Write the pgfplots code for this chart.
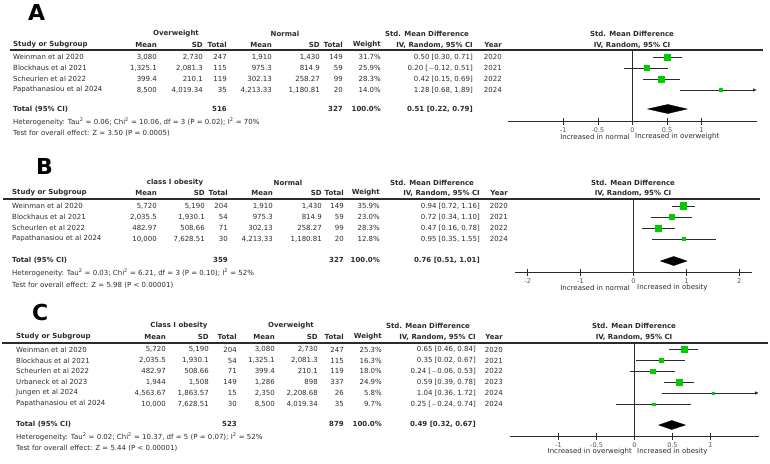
\documentclass[border=0pt]{standalone}
\usepackage{pgfplots}
\pgfplotsset{compat=1.18}
\usepackage{fontspec}
\setmainfont{DejaVu Sans}
\usetikzlibrary{arrows.meta}
\definecolor{sqgreen}{HTML}{00CC00}
\definecolor{ink}{HTML}{2B2B2B}

% column positions are set per panel
\newcommand\trow[9]{%
  \node[L] at (\pS,#1) {#2};
  \node[R] at (\pa,#1) {#3};
  \node[R] at (\pb,#1) {#4};
  \node[R] at (\pc,#1) {#5};
  \node[R] at (\pd,#1) {#6};
  \node[R] at (\pe,#1) {#7};
  \node[R] at (\pf,#1) {#8};
  \node[R] at (\pw,#1) {#9};}
\newcommand\erow[3]{%
  \node[R] at (\px,#1) {#2};
  \node[R] at (\py,#1) {#3};}
\newcommand\fsz{\fontsize{7}{8}\selectfont}

\pgfplotsset{forest/.style={
  scale only axis, clip=false,
  axis x line=bottom, axis y line=none,
  x axis line style={-, ink, line width=0.8pt},
  tick align=center, major tick length=7pt,
  xtick style={ink, line width=0.6pt},
  xticklabel style={font=\fontsize{6.5}{7}\selectfont, text=ink!80},
}}

\begin{document}
\begin{tikzpicture}
\begin{scope}[x=1pt,y=-1pt,
  L/.style={anchor=west,inner sep=0pt,text=ink,font=\fsz},
  R/.style={anchor=east,inner sep=0pt,text=ink,font=\fsz},
  C/.style={anchor=center,inner sep=0pt,text=ink,font=\fsz},
  B/.style={font=\fsz\bfseries}]
\path[use as bounding box] (0,0) rectangle (770,463);

%%%%%%%%%%%%%%%% A
\def\pS{13}\def\pa{157}\def\pb{203}\def\pc{227}\def\pd{272}\def\pe{320}
\def\pf{343}\def\pw{381}\def\px{473}\def\py{502}
\node[anchor=west,inner sep=0pt,font=\fontsize{22}{22}\selectfont\bfseries] at (28,12) {A};
\node[C,B] at (176,34) {Overweight};
\node[C,B] at (285,34) {Normal};
\node[C,B] at (427,34) {Std. Mean Difference};
\node[C,B] at (632,34) {Std. Mean Difference};
\node[C,B] at (632,45) {IV, Random, 95\% CI};
\node[L,B] at (\pS,45) {Study or Subgroup};
\node[R,B] at (\pa,45) {Mean}; \node[R,B] at (\pb,45) {SD}; \node[R,B] at (\pc,45) {Total};
\node[R,B] at (\pd,45) {Mean}; \node[R,B] at (\pe,45) {SD}; \node[R,B] at (\pf,45) {Total};
\node[R,B] at (\pw,45) {Weight}; \node[R,B] at (\px,45) {IV, Random, 95\% CI}; \node[R,B] at (\py,45) {Year};
\draw[ink,line width=1.2pt] (10,50) -- (763,50);
\trow{57}{Weinman et al 2020}{3,080}{2,730}{247}{1,910}{1,430}{149}{31.7\%}
\trow{68}{Blockhaus et al 2021}{1,325.1}{2,081.3}{115}{975.3}{814.9}{59}{25.9\%}
\trow{79}{Scheurlen et al 2022}{399.4}{210.1}{119}{302.13}{258.27}{99}{28.3\%}
\trow{90}{Papathanasiou et al 2024}{8,500}{4,019.34}{35}{4,213.33}{1,180.81}{20}{14.0\%}
\erow{57}{0.50 [0.30, 0.71]}{2020}
\erow{68}{0.20 [$-$0.12, 0.51]}{2021}
\erow{79}{0.42 [0.15, 0.69]}{2022}
\erow{90}{1.28 [0.68, 1.89]}{2024}
\node[L,B] at (\pS,109) {Total (95\% CI)};
\node[R,B] at (\pc,109) {516}; \node[R,B] at (\pf,109) {327};
\node[R,B] at (\pw,109) {100.0\%}; \node[R,B] at (\px,109) {0.51 [0.22, 0.79]};
\node[L] at (\pS,122) {Heterogeneity: Tau\textsuperscript{2} = 0.06; Chi\textsuperscript{2} = 10.06, df = 3 (P = 0.02); I\textsuperscript{2} = 70\%};
\node[L] at (\pS,133) {Test for overall effect: Z = 3.50 (P = 0.0005)};
\node[R] at (630,137) {Increased in normal};
\node[L] at (635,137) {Increased in overweight};

%%%%%%%%%%%%%%%% B
\def\pS{12}\def\pa{157}\def\pb{205}\def\pc{228}\def\pd{273}\def\pe{322}
\def\pf{344}\def\pw{380}\def\px{480}\def\py{508}
\node[anchor=west,inner sep=0pt,font=\fontsize{22}{22}\selectfont\bfseries] at (36,166) {B};
\node[C,B] at (175,183) {class I obesity};
\node[C,B] at (288,183) {Normal};
\node[C,B] at (432,183) {Std. Mean Difference};
\node[C,B] at (633,183) {Std. Mean Difference};
\node[C,B] at (633,193) {IV, Random, 95\% CI};
\node[L,B] at (\pS,193) {Study or Subgroup};
\node[R,B] at (\pa,193) {Mean}; \node[R,B] at (\pb,193) {SD}; \node[R,B] at (\pc,193) {Total};
\node[R,B] at (\pd,193) {Mean}; \node[R,B] at (\pe,193) {SD}; \node[R,B] at (\pf,193) {Total};
\node[R,B] at (\pw,193) {Weight}; \node[R,B] at (\px,193) {IV, Random, 95\% CI}; \node[R,B] at (\py,193) {Year};
\draw[ink,line width=1.2pt] (3,199) -- (760,199);
\trow{206}{Weinman et al 2020}{5,720}{5,190}{204}{1,910}{1,430}{149}{35.9\%}
\trow{217}{Blockhaus et al 2021}{2,035.5}{1,930.1}{54}{975.3}{814.9}{59}{23.0\%}
\trow{228}{Scheurlen et al 2022}{482.97}{508.66}{71}{302.13}{258.27}{99}{28.3\%}
\trow{239}{Papathanasiou et al 2024}{10,000}{7,628.51}{30}{4,213.33}{1,180.81}{20}{12.8\%}
\erow{206}{0.94 [0.72, 1.16]}{2020}
\erow{217}{0.72 [0.34, 1.10]}{2021}
\erow{228}{0.47 [0.16, 0.78]}{2022}
\erow{239}{0.95 [0.35, 1.55]}{2024}
\node[L,B] at (\pS,260) {Total (95\% CI)};
\node[R,B] at (\pc,260) {359}; \node[R,B] at (\pf,260) {327};
\node[R,B] at (\pw,260) {100.0\%}; \node[R,B] at (\px,260) {0.76 [0.51, 1.01]};
\node[L] at (\pS,273) {Heterogeneity: Tau\textsuperscript{2} = 0.03; Chi\textsuperscript{2} = 6.21, df = 3 (P = 0.10); I\textsuperscript{2} = 52\%};
\node[L] at (\pS,285) {Test for overall effect: Z = 5.98 (P < 0.00001)};
\node[R] at (630,288) {Increased in normal};
\node[L] at (637,288) {Increased in obesity};

%%%%%%%%%%%%%%%% C
\def\pS{16}\def\pa{166}\def\pb{209}\def\pc{237}\def\pd{275}\def\pe{318}
\def\pf{344}\def\pw{382}\def\px{476}\def\py{503}
\node[anchor=west,inner sep=0pt,font=\fontsize{22}{22}\selectfont\bfseries] at (32,312) {C};
\node[C,B] at (179,326) {Class I obesity};
\node[C,B] at (291,326) {Overweight};
\node[C,B] at (428,326) {Std. Mean Difference};
\node[C,B] at (634,326) {Std. Mean Difference};
\node[C,B] at (634,337) {IV, Random, 95\% CI};
\node[L,B] at (\pS,337) {Study or Subgroup};
\node[R,B] at (\pa,337) {Mean}; \node[R,B] at (\pb,337) {SD}; \node[R,B] at (\pc,337) {Total};
\node[R,B] at (\pd,337) {Mean}; \node[R,B] at (\pe,337) {SD}; \node[R,B] at (\pf,337) {Total};
\node[R,B] at (\pw,337) {Weight}; \node[R,B] at (\px,337) {IV, Random, 95\% CI}; \node[R,B] at (\py,337) {Year};
\draw[ink,line width=1.2pt] (2,343) -- (768,343);
\trow{349.5}{Weinman et al 2020}{5,720}{5,190}{204}{3,080}{2,730}{247}{25.3\%}
\trow{360.5}{Blockhaus et al 2021}{2,035.5}{1,930.1}{54}{1,325.1}{2,081.3}{115}{16.3\%}
\trow{371}{Scheurlen et al 2022}{482.97}{508.66}{71}{399.4}{210.1}{119}{18.0\%}
\trow{382}{Urbaneck et al 2023}{1,944}{1,508}{149}{1,286}{898}{337}{24.9\%}
\trow{393}{Jungen et al 2024}{4,563.67}{1,863.57}{15}{2,350}{2,208.68}{26}{5.8\%}
\trow{404}{Papathanasiou et al 2024}{10,000}{7,628.51}{30}{8,500}{4,019.34}{35}{9.7\%}
\erow{349.5}{0.65 [0.46, 0.84]}{2020}
\erow{360.5}{0.35 [0.02, 0.67]}{2021}
\erow{371}{0.24 [$-$0.06, 0.53]}{2022}
\erow{382}{0.59 [0.39, 0.78]}{2023}
\erow{393}{1.04 [0.36, 1.72]}{2024}
\erow{404}{0.25 [$-$0.24, 0.74]}{2024}
\node[L,B] at (\pS,424) {Total (95\% CI)};
\node[R,B] at (\pc,424) {523}; \node[R,B] at (\pf,424) {879};
\node[R,B] at (\pw,424) {100.0\%}; \node[R,B] at (\px,424) {0.49 [0.32, 0.67]};
\node[L] at (\pS,437) {Heterogeneity: Tau\textsuperscript{2} = 0.02; Chi\textsuperscript{2} = 10.37, df = 5 (P = 0.07); I\textsuperscript{2} = 52\%};
\node[L] at (\pS,448) {Test for overall effect: Z = 5.44 (P < 0.00001)};
\node[R] at (632,452) {Increased in overweight};
\node[L] at (637,452) {Increased in obesity};
\end{scope}

%%%%%%%%%%%%%%%% plots
\begin{axis}[forest, at={(508pt,-121pt)}, anchor=south west,
  width=249pt, height=71pt, xmin=-1.8, xmax=1.8, ymin=-121, ymax=-50,
  xtick={-1,-0.5,0,0.5,1}, xticklabels={-1,-0.5,0,0.5,1}]
\addplot[ink, line width=0.8pt] coordinates {(0,-121) (0,-50)};
\addplot[ink, line width=0.8pt] coordinates {(0.30,-57) (0.71,-57)};
\addplot[ink, line width=0.8pt] coordinates {(-0.12,-68) (0.51,-68)};
\addplot[ink, line width=0.8pt] coordinates {(0.15,-79) (0.69,-79)};
\addplot[ink, line width=0.8pt, -{Latex[length=4pt,width=3.5pt]}] coordinates {(0.68,-90) (1.80,-90)};
\addplot[only marks, mark=square*, mark size=3.2pt, sqgreen] coordinates {(0.50,-57)};
\addplot[only marks, mark=square*, mark size=2.6pt, sqgreen] coordinates {(0.20,-68)};
\addplot[only marks, mark=square*, mark size=2.9pt, sqgreen] coordinates {(0.42,-79)};
\addplot[only marks, mark=square*, mark size=1.5pt, sqgreen] coordinates {(1.28,-90)};
\addplot[fill=black, draw=black] coordinates {(0.22,-109) (0.51,-104.5) (0.79,-109) (0.51,-113.5)} -- cycle;
\end{axis}

\begin{axis}[forest, at={(515pt,-272pt)}, anchor=south west,
  width=237pt, height=73pt, xmin=-2.24, xmax=2.24, ymin=-272, ymax=-199,
  xtick={-2,-1,0,1,2}, xticklabels={-2,-1,0,1,2}]
\addplot[ink, line width=0.8pt] coordinates {(0,-272) (0,-199)};
\addplot[ink, line width=0.8pt] coordinates {(0.72,-206) (1.16,-206)};
\addplot[ink, line width=0.8pt] coordinates {(0.34,-217) (1.10,-217)};
\addplot[ink, line width=0.8pt] coordinates {(0.16,-228) (0.78,-228)};
\addplot[ink, line width=0.8pt] coordinates {(0.35,-239) (1.55,-239)};
\addplot[only marks, mark=square*, mark size=3.4pt, sqgreen] coordinates {(0.94,-206)};
\addplot[only marks, mark=square*, mark size=2.6pt, sqgreen] coordinates {(0.72,-217)};
\addplot[only marks, mark=square*, mark size=2.9pt, sqgreen] coordinates {(0.47,-228)};
\addplot[only marks, mark=square*, mark size=1.5pt, sqgreen] coordinates {(0.95,-239)};
\addplot[fill=black, draw=black] coordinates {(0.51,-261) (0.76,-256.5) (1.01,-261) (0.76,-265.5)} -- cycle;
\end{axis}

\begin{axis}[forest, at={(510pt,-436pt)}, anchor=south west,
  width=249pt, height=93pt, xmin=-1.64, xmax=1.64, ymin=-436, ymax=-343,
  xtick={-1,-0.5,0,0.5,1}, xticklabels={-1,-0.5,0,0.5,1}]
\addplot[ink, line width=0.8pt] coordinates {(0,-436) (0,-343)};
\addplot[ink, line width=0.8pt] coordinates {(0.46,-349.5) (0.84,-349.5)};
\addplot[ink, line width=0.8pt] coordinates {(0.02,-360.5) (0.67,-360.5)};
\addplot[ink, line width=0.8pt] coordinates {(-0.06,-371) (0.53,-371)};
\addplot[ink, line width=0.8pt] coordinates {(0.39,-382) (0.78,-382)};
\addplot[ink, line width=0.8pt, -{Latex[length=4pt,width=3.5pt]}] coordinates {(0.36,-393) (1.64,-393)};
\addplot[ink, line width=0.8pt] coordinates {(-0.24,-404) (0.74,-404)};
\addplot[only marks, mark=square*, mark size=3.0pt, sqgreen] coordinates {(0.65,-349.5)};
\addplot[only marks, mark=square*, mark size=2.0pt, sqgreen] coordinates {(0.35,-360.5)};
\addplot[only marks, mark=square*, mark size=2.2pt, sqgreen] coordinates {(0.24,-371)};
\addplot[only marks, mark=square*, mark size=3.0pt, sqgreen] coordinates {(0.59,-382)};
\addplot[only marks, mark=square*, mark size=1.1pt, sqgreen] coordinates {(1.04,-393)};
\addplot[only marks, mark=square*, mark size=1.3pt, sqgreen] coordinates {(0.25,-404)};
\addplot[fill=black, draw=black] coordinates {(0.32,-425) (0.49,-420.5) (0.67,-425) (0.49,-429.5)} -- cycle;
\end{axis}
\end{tikzpicture}
\end{document}
